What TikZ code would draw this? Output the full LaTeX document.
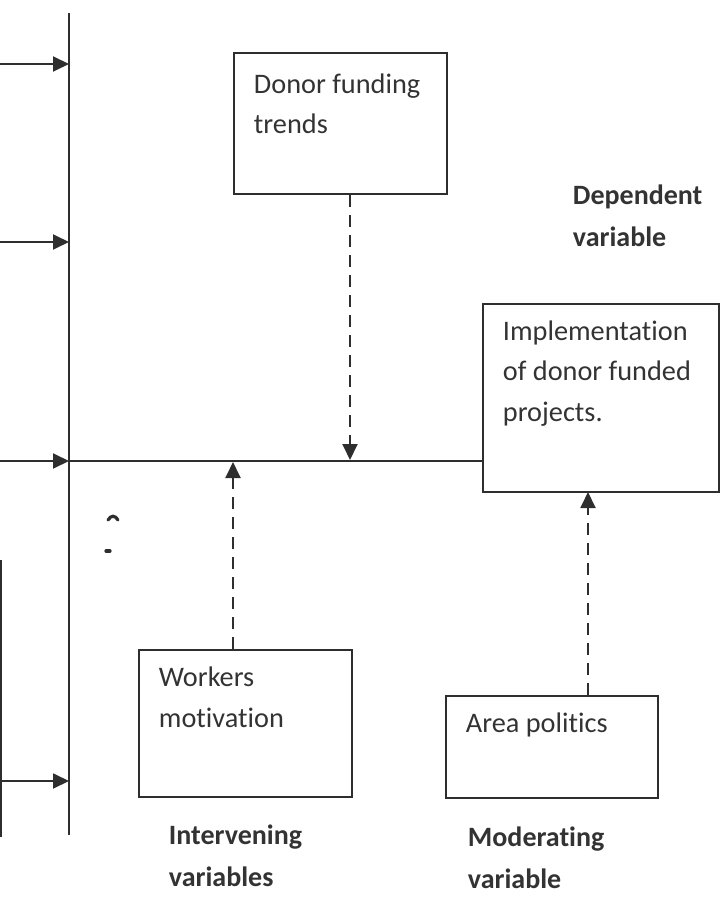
\documentclass[tikz,border=0pt]{standalone}
\usepackage{fontspec}
\setmainfont{Carlito}[Ligatures=CommonOff]
\usetikzlibrary{arrows.meta}
\definecolor{ink}{HTML}{2E2E2E}
\definecolor{txt}{HTML}{333333}
\begin{document}
\begin{tikzpicture}[x=1pt,y=-1pt,
  line width=1.9pt, draw=ink,
  box/.style={draw=ink, rectangle, inner sep=0pt, anchor=north west},
  label text/.style={anchor=base west, inner sep=0pt, align=left, text=txt,
    font=\fontsize{28.3}{40.5}\selectfont},
  head text/.style={label text, font=\fontsize{28}{42}\selectfont\bfseries},
  solidarrow/.style={-{Triangle[length=16pt,width=15pt]}},
  dasharrow/.style={-{Triangle[length=16pt,width=15pt]}, dash pattern=on 12pt off 8pt}]
\useasboundingbox (0,0) rectangle (725,901);

% vertical divider
\coordinate (vtop) at (69,13);
\coordinate (vbot) at (69,835);
\draw (vtop) -- (vbot);

% edge of a box cut off at the left margin
\coordinate (ltop) at (0.9,560);
\coordinate (lbot) at (0.9,837);
\draw (ltop) -- (lbot);

% arrows coming in from the independent variables
\foreach \yy/\nm in {64/a,242/b,461/c,781/d}{
  \coordinate (s\nm) at (0,\yy);
  \coordinate (e\nm) at (69,\yy);
  \draw[solidarrow] (s\nm) -- (e\nm);
}

% boxes
\node[box, minimum width=213pt, minimum height=141pt] (donor) at (233,52) {};
\node[box, minimum width=236pt, minimum height=188pt] (impl) at (482,303) {};
\node[box, minimum width=213pt, minimum height=147pt] (workers) at (138,649) {};
\node[box, minimum width=212pt, minimum height=102pt] (area) at (445,695) {};

% box texts
\node[label text] (donortxt) at (253,134) {Donor funding\\trends};
\node[label text] (impltxt) at (502,421) {Implementation\\of donor funded\\projects.};
\node[label text] (workerstxt) at (158,727) {Workers\\motivation};
\node[label text] (areatxt) at (465,732) {Area politics};

% headings
\node[head text] (dep) at (572,247) {Dependent\\variable};
\node[head text] (interv) at (168,886) {Intervening\\variables};
\node[head text] (moder) at (467,888) {Moderating\\variable};

% main path into the dependent variable
\draw (ec) -- (ec -| impl.west);

% dashed influences
\coordinate (dtip) at (350,460);
\coordinate (wtip) at (233,462);
\coordinate (atip) at (588,492);
\draw[dasharrow] (dtip |- donor.south) -- (dtip);
\draw[dasharrow] (wtip |- workers.north) -- (wtip);
\draw[dasharrow] (atip |- area.north) -- (atip);

% small ink marks
\draw[line width=3.2pt, line cap=round] (108,520) .. controls (111,515) and (115,515) .. (118,520);
\draw[line width=3.2pt, line cap=round] (106,551) -- (110,551);
\end{tikzpicture}
\end{document}
